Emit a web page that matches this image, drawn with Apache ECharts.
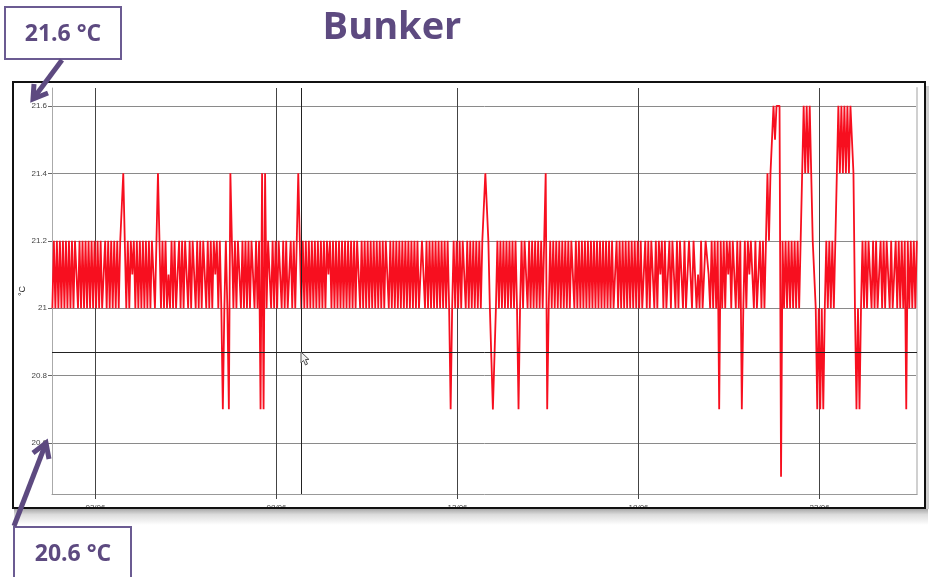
<!DOCTYPE html>
<html><head><meta charset="utf-8">
<script src="https://cdn.jsdelivr.net/npm/echarts@6/dist/echarts.min.js"></script>
<style>html,body{margin:0;padding:0;background:#fff}#c{width:929px;height:577px}</style>
</head><body><div id="c"></div>
<script>
// ---------- data ----------
const chartTitle = 'Bunker';
const noteTop = '21.6 °C';
const noteBottom = '20.6 °C';
const yAxisName = '°C';
const dayTicks = [3, 8, 13, 18, 23];            // day of June
const tempTicks = [20.6, 20.8, 21, 21.2, 21.4, 21.6];
const firstSampleDay = 1.81;                      // first reading (day of June)
const sampleHours = 1;                            // logger interval
const levelCodes  = ['0','1','2','3','4','5','6','7','8','9','a','b'];
const levelValues = [20.5,20.6,20.7,20.8,20.9,21.0,21.1,21.2,21.3,21.4,21.5,21.6];
// one character per reading
const readingsWeek1 = [
 '5757575757','5757577575','7575757575','7575575757','5757578975',
 '7576757575','7575757757','9757575657','5755757577','5757657575',
 '7757575767','5752575297','5757757575','7577575729','2957757575',
 '7757575575','7579757575'
];
const readingsWeek2 = [
 '7575757575','7576757575','7575757575','7577575757','5757575757',
 '5765757575','7575757575','7575577575','7575757575','7575257575',
 '7577575757','5757578997','5522575757','5757575752','5757757575',
 '7575757925','7575757575'
];
const readingsWeek3 = [
 '7575775757','5757575757','5757575757','5755757575','7575757575',
 '7557575775','7576757557','5775757657','5677577565','7557765757',
 '5727575767','5775757257','5767657557','57579799ba','bbb0757575',
 '75757559b9','b9b9775252','5257575757','9b9b9b9b9b','b952525757',
 '5765757557','5757757567','5757572757','5757'
];
const thresholdTemp = 20.872;
const cursorDay = 8.684;

// ---------- chart ----------
const readings = readingsWeek1.concat(readingsWeek2, readingsWeek3).join('');
const seriesData = readings.split('').map((c, i) => [
  firstSampleDay + i * sampleHours / 24,
  levelValues[levelCodes.indexOf(c)]
]);

const purple = '#5d4a80';
const chart = echarts.init(document.getElementById('c'), null, {renderer: 'canvas'});

function arrow(tail, tip, wingA, wingB) {
  return [
    {type: 'line', z: 300, shape: {x1: tail[0], y1: tail[1], x2: tip[0], y2: tip[1]},
     style: {stroke: purple, lineWidth: 5}},
    {type: 'polyline', z: 300, shape: {points: [wingA, tip, wingB]},
     style: {stroke: purple, lineWidth: 5, fill: null, lineJoin: 'miter'}}
  ];
}

chart.setOption({
  animation: false,
  backgroundColor: '#fff',
  grid: {left: 52, right: 12, top: 88, height: 406, containLabel: false},
  xAxis: {
    type: 'value', min: 1.80, max: 25.69,
    axisLine: {show: true, lineStyle: {color: '#999', width: 1}},
    axisTick: {show: true, length: 5, customValues: dayTicks, lineStyle: {color: '#444'}},
    axisLabel: {customValues: dayTicks, fontSize: 8, color: '#444', margin: 10,
      fontFamily: 'Liberation Sans',
      formatter: v => (v < 10 ? '0' : '') + Math.round(v) + '/06'},
    splitLine: {show: true, lineStyle: {color: '#444', width: 1}}
  },
  yAxis: [{
    type: 'value', min: 20.449, max: 21.653,
    name: yAxisName, nameLocation: 'middle', nameGap: 25, nameRotate: 90,
    nameMoveOverlap: false,
    nameTextStyle: {fontSize: 9, color: '#222', fontFamily: 'Liberation Sans'},
    axisLine: {show: true, lineStyle: {color: '#aaa', width: 1}},
    axisTick: {show: true, length: 4, customValues: tempTicks, lineStyle: {color: '#666'}},
    axisLabel: {customValues: tempTicks, fontSize: 8, color: '#444', margin: 5,
      fontFamily: 'Liberation Sans', formatter: v => String(+(+v).toFixed(1))},
    splitLine: {show: true, lineStyle: {color: '#8a8a8a', width: 1}}
  }, {
    type: 'value', min: 20.449, max: 21.653, position: 'right',
    axisLine: {show: true, lineStyle: {color: '#d0d0d0', width: 2}},
    axisTick: {show: false}, axisLabel: {show: false}, splitLine: {show: false}
  }],
  series: [{
    type: 'line', data: seriesData, yAxisIndex: 0,
    showSymbol: false, symbol: 'none', sampling: null,
    lineStyle: {color: '#f70f1f', width: 1.8, join: 'bevel'},
    markLine: {
      silent: true, symbol: 'none', label: {show: false}, animation: false,
      lineStyle: {color: '#222', width: 1, type: 'solid'},
      data: [{yAxis: thresholdTemp}, {xAxis: cursorDay}]
    }
  }],
  graphic: [
    {type: 'text', z: 300, x: 392, y: 28,
     style: {text: chartTitle, font: 'bold 38px "Open Sans"', fill: purple,
             align: 'center', verticalAlign: 'middle'}},
    // chart frame and shadow
    {type: 'rect', z: 150, shape: {x: 14, y: 509, width: 914, height: 16},
     style: {fill: new echarts.graphic.LinearGradient(0, 0, 0, 1,
       [{offset: 0, color: '#a9a9a9'}, {offset: 0.35, color: '#dcdcdc'}, {offset: 1, color: '#ffffff'}])}},
    {type: 'rect', z: 150, shape: {x: 926, y: 86, width: 3, height: 423},
     style: {fill: '#cfcfcf'}},
    {type: 'rect', z: 160, shape: {x: 13, y: 82, width: 912, height: 426},
     style: {fill: null, stroke: '#111', lineWidth: 2}},
    // mouse cursor
    {type: 'polygon', z: 170,
     shape: {points: [[301,352],[301,363],[303.5,360.5],[305.5,365],[307.5,364],[305.5,359.5],[309,359.5]]},
     style: {fill: '#f2f2f2', stroke: '#555', lineWidth: 1}},
    // annotation boxes
    {type: 'rect', z: 300, shape: {x: 5, y: 7, width: 116, height: 52},
     style: {fill: '#fff', stroke: '#6b5b92', lineWidth: 2}},
    {type: 'text', z: 301, x: 63, y: 34,
     style: {text: noteTop, font: 'bold 23px "Open Sans"', fill: purple,
             align: 'center', verticalAlign: 'middle'}},
    {type: 'rect', z: 300, shape: {x: 14, y: 527, width: 117, height: 60},
     style: {fill: '#fff', stroke: '#6b5b92', lineWidth: 2}},
    {type: 'text', z: 301, x: 73, y: 554,
     style: {text: noteBottom, font: 'bold 23px "Open Sans"', fill: purple,
             align: 'center', verticalAlign: 'middle'}}
  ].concat(
    arrow([62, 60], [33, 99], [34, 84], [48, 93]),
    arrow([14, 526], [46, 443], [33, 453], [49, 459])
  )
});
</script>
</body></html>
